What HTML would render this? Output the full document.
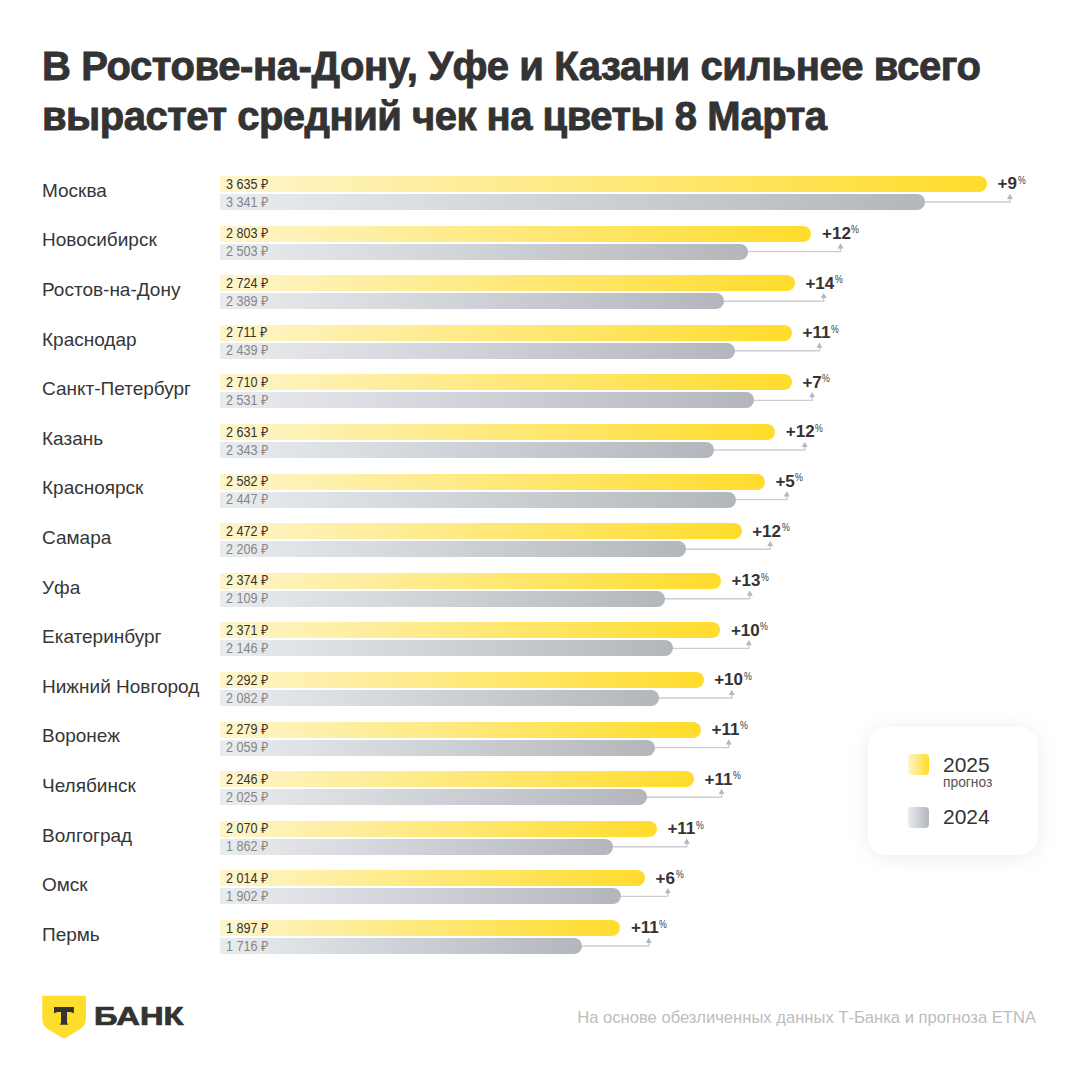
<!DOCTYPE html>
<html lang="ru"><head><meta charset="utf-8"><title>Средний чек на цветы 8 Марта</title>
<style>
*{margin:0;padding:0;box-sizing:border-box}
html,body{width:1080px;height:1080px;background:#fff;overflow:hidden}
body{position:relative;font-family:"Liberation Sans",sans-serif;color:#333}
.t{position:absolute;left:42px;font-weight:700;font-size:40px;white-space:nowrap;color:#333;line-height:1;-webkit-text-stroke:0.9px #333}
.c{position:absolute;left:42px;font-size:19px;white-space:nowrap;color:#363636;line-height:1}
.b{position:absolute;left:220px;height:16px;border-radius:0 8px 8px 0;z-index:2}
.y{background:linear-gradient(90deg,#fef5cc,#ffdc2b)}
.g{background:linear-gradient(90deg,#e9ecef,#b3b7bc)}
.v{position:absolute;left:5.9px;top:0.6px;font-size:14px;line-height:1;white-space:nowrap;transform:scaleX(0.9);transform-origin:0 0}
.y .v{color:#333}
.g .v{color:#858585}
.p{position:absolute;font-weight:700;font-size:17px;line-height:1;white-space:nowrap;color:#333;z-index:3}
.p sup{display:inline-block;position:relative;top:-0.5px;font-size:11px;font-weight:400;vertical-align:top;margin-left:0.6px;color:#3a3a3a;transform:scaleX(0.8);transform-origin:0 0}
svg.cn{position:absolute;left:0;top:0;z-index:1}
.leg{position:absolute;left:868px;top:727px;width:170px;height:128px;border-radius:18px;background:#fff;box-shadow:0 2px 22px rgba(0,0,0,0.08)}
.sq{position:absolute;width:21px;height:21px;border-radius:4px}
.lt{position:absolute;font-size:21px;line-height:1;color:#333;white-space:nowrap}
.ls{position:absolute;font-size:13.8px;line-height:1;color:#555;white-space:nowrap}
.foot{position:absolute;right:44px;top:1010px;font-size:16.6px;line-height:1;color:#bdbdbd;white-space:nowrap}
.bank{position:absolute;left:93.8px;top:1003.8px;font-weight:700;font-size:25px;line-height:1;color:#333;white-space:nowrap;transform:scaleX(1.31);transform-origin:0 0;-webkit-text-stroke:0.7px #333}
</style></head>
<body>
<div class="t" style="top:46.2px;letter-spacing:-0.4px">В Ростове-на-Дону, Уфе и Казани сильнее всего</div>
<div class="t" style="top:96.2px;letter-spacing:-0.5px">вырастет средний чек на цветы 8 Марта</div>
<div class="c" style="top:180.8px">Москва</div>
<div class="b y" style="top:176.0px;width:767.0px"><span class="v">3 635 ₽</span></div>
<div class="b g" style="top:194.0px;width:705.0px"><span class="v">3 341 ₽</span></div>
<div class="p" style="left:997.6px;top:175.3px">+9<sup>%</sup></div>
<div class="c" style="top:230.4px">Новосибирск</div>
<div class="b y" style="top:225.6px;width:591.4px"><span class="v">2 803 ₽</span></div>
<div class="b g" style="top:243.6px;width:528.1px"><span class="v">2 503 ₽</span></div>
<div class="p" style="left:822.0px;top:224.9px">+12<sup>%</sup></div>
<div class="c" style="top:280.0px">Ростов-на-Дону</div>
<div class="b y" style="top:275.2px;width:574.8px"><span class="v">2 724 ₽</span></div>
<div class="b g" style="top:293.2px;width:504.1px"><span class="v">2 389 ₽</span></div>
<div class="p" style="left:805.4px;top:274.5px">+14<sup>%</sup></div>
<div class="c" style="top:329.6px">Краснодар</div>
<div class="b y" style="top:324.8px;width:572.0px"><span class="v">2 711 ₽</span></div>
<div class="b g" style="top:342.8px;width:514.6px"><span class="v">2 439 ₽</span></div>
<div class="p" style="left:802.6px;top:324.1px">+11<sup>%</sup></div>
<div class="c" style="top:379.2px">Санкт-Петербург</div>
<div class="b y" style="top:374.4px;width:571.8px"><span class="v">2 710 ₽</span></div>
<div class="b g" style="top:392.4px;width:534.1px"><span class="v">2 531 ₽</span></div>
<div class="p" style="left:802.4px;top:373.7px">+7<sup>%</sup></div>
<div class="c" style="top:428.8px">Казань</div>
<div class="b y" style="top:424.0px;width:555.2px"><span class="v">2 631 ₽</span></div>
<div class="b g" style="top:442.0px;width:494.4px"><span class="v">2 343 ₽</span></div>
<div class="p" style="left:785.8px;top:423.3px">+12<sup>%</sup></div>
<div class="c" style="top:478.4px">Красноярск</div>
<div class="b y" style="top:473.6px;width:544.8px"><span class="v">2 582 ₽</span></div>
<div class="b g" style="top:491.6px;width:516.3px"><span class="v">2 447 ₽</span></div>
<div class="p" style="left:775.4px;top:472.9px">+5<sup>%</sup></div>
<div class="c" style="top:528.0px">Самара</div>
<div class="b y" style="top:523.2px;width:521.6px"><span class="v">2 472 ₽</span></div>
<div class="b g" style="top:541.2px;width:465.5px"><span class="v">2 206 ₽</span></div>
<div class="p" style="left:752.2px;top:522.5px">+12<sup>%</sup></div>
<div class="c" style="top:577.6px">Уфа</div>
<div class="b y" style="top:572.8px;width:500.9px"><span class="v">2 374 ₽</span></div>
<div class="b g" style="top:590.8px;width:445.0px"><span class="v">2 109 ₽</span></div>
<div class="p" style="left:731.5px;top:572.1px">+13<sup>%</sup></div>
<div class="c" style="top:627.2px">Екатеринбург</div>
<div class="b y" style="top:622.4px;width:500.3px"><span class="v">2 371 ₽</span></div>
<div class="b g" style="top:640.4px;width:452.8px"><span class="v">2 146 ₽</span></div>
<div class="p" style="left:730.9px;top:621.7px">+10<sup>%</sup></div>
<div class="c" style="top:676.8px">Нижний Новгород</div>
<div class="b y" style="top:672.0px;width:483.6px"><span class="v">2 292 ₽</span></div>
<div class="b g" style="top:690.0px;width:439.3px"><span class="v">2 082 ₽</span></div>
<div class="p" style="left:714.2px;top:671.3px">+10<sup>%</sup></div>
<div class="c" style="top:726.4px">Воронеж</div>
<div class="b y" style="top:721.6px;width:480.9px"><span class="v">2 279 ₽</span></div>
<div class="b g" style="top:739.6px;width:434.5px"><span class="v">2 059 ₽</span></div>
<div class="p" style="left:711.5px;top:720.9px">+11<sup>%</sup></div>
<div class="c" style="top:776.0px">Челябинск</div>
<div class="b y" style="top:771.2px;width:473.9px"><span class="v">2 246 ₽</span></div>
<div class="b g" style="top:789.2px;width:427.3px"><span class="v">2 025 ₽</span></div>
<div class="p" style="left:704.5px;top:770.5px">+11<sup>%</sup></div>
<div class="c" style="top:825.6px">Волгоград</div>
<div class="b y" style="top:820.8px;width:436.8px"><span class="v">2 070 ₽</span></div>
<div class="b g" style="top:838.8px;width:392.9px"><span class="v">1 862 ₽</span></div>
<div class="p" style="left:667.4px;top:820.1px">+11<sup>%</sup></div>
<div class="c" style="top:875.2px">Омск</div>
<div class="b y" style="top:870.4px;width:425.0px"><span class="v">2 014 ₽</span></div>
<div class="b g" style="top:888.4px;width:401.3px"><span class="v">1 902 ₽</span></div>
<div class="p" style="left:655.6px;top:869.7px">+6<sup>%</sup></div>
<div class="c" style="top:924.8px">Пермь</div>
<div class="b y" style="top:920.0px;width:400.3px"><span class="v">1 897 ₽</span></div>
<div class="b g" style="top:938.0px;width:362.1px"><span class="v">1 716 ₽</span></div>
<div class="p" style="left:630.9px;top:919.3px">+11<sup>%</sup></div>
<svg class="cn" width="1080" height="1080" viewBox="0 0 1080 1080"><path d="M919.0 202.0H1009.9V198.0" fill="none" stroke="#caced3" stroke-width="1.4"/><path d="M1009.9 193.7L1012.9 198.9H1006.9Z" fill="#b3b8be"/><path d="M742.1 251.6H840.5V247.6" fill="none" stroke="#caced3" stroke-width="1.4"/><path d="M840.5 243.3L843.5 248.5H837.5Z" fill="#b3b8be"/><path d="M718.1 301.2H823.7V297.2" fill="none" stroke="#caced3" stroke-width="1.4"/><path d="M823.7 292.9L826.7 298.1H820.7Z" fill="#b3b8be"/><path d="M728.6 350.8H819.5V346.8" fill="none" stroke="#caced3" stroke-width="1.4"/><path d="M819.5 342.5L822.5 347.7H816.5Z" fill="#b3b8be"/><path d="M748.1 400.4H812.1V396.4" fill="none" stroke="#caced3" stroke-width="1.4"/><path d="M812.1 392.1L815.1 397.3H809.1Z" fill="#b3b8be"/><path d="M708.4 450.0H804.7V446.0" fill="none" stroke="#caced3" stroke-width="1.4"/><path d="M804.7 441.7L807.7 446.9H801.7Z" fill="#b3b8be"/><path d="M730.3 499.6H786.8V495.6" fill="none" stroke="#caced3" stroke-width="1.4"/><path d="M786.8 491.3L789.8 496.5H783.8Z" fill="#b3b8be"/><path d="M679.5 549.2H770.2V545.2" fill="none" stroke="#caced3" stroke-width="1.4"/><path d="M770.2 540.9L773.2 546.1H767.2Z" fill="#b3b8be"/><path d="M659.0 598.8H749.8V594.8" fill="none" stroke="#caced3" stroke-width="1.4"/><path d="M749.8 590.5L752.8 595.7H746.8Z" fill="#b3b8be"/><path d="M666.8 648.4H748.9V644.4" fill="none" stroke="#caced3" stroke-width="1.4"/><path d="M748.9 640.1L751.9 645.3H745.9Z" fill="#b3b8be"/><path d="M653.3 698.0H731.7V694.0" fill="none" stroke="#caced3" stroke-width="1.4"/><path d="M731.7 689.7L734.7 694.9H728.7Z" fill="#b3b8be"/><path d="M648.5 747.6H728.8V743.6" fill="none" stroke="#caced3" stroke-width="1.4"/><path d="M728.8 739.3L731.8 744.5H725.8Z" fill="#b3b8be"/><path d="M641.3 797.2H721.6V793.2" fill="none" stroke="#caced3" stroke-width="1.4"/><path d="M721.6 788.9L724.6 794.1H718.6Z" fill="#b3b8be"/><path d="M606.9 846.8H686.8V842.8" fill="none" stroke="#caced3" stroke-width="1.4"/><path d="M686.8 838.5L689.8 843.7H683.8Z" fill="#b3b8be"/><path d="M615.3 896.4H667.8V892.4" fill="none" stroke="#caced3" stroke-width="1.4"/><path d="M667.8 888.1L670.8 893.3H664.8Z" fill="#b3b8be"/><path d="M576.1 946.0H648.8V942.0" fill="none" stroke="#caced3" stroke-width="1.4"/><path d="M648.8 937.7L651.8 942.9H645.8Z" fill="#b3b8be"/></svg>
<div class="leg"><div class="sq" style="left:40px;top:27px;background:linear-gradient(90deg,#fef5cc,#ffdc2b)"></div><div class="lt" style="left:75px;top:26.5px">2025</div><div class="ls" style="left:75px;top:48.9px">прогноз</div><div class="sq" style="left:40px;top:80px;background:linear-gradient(90deg,#e9ecef,#b3b7bc)"></div><div class="lt" style="left:75px;top:78.8px">2024</div></div>
<svg style="position:absolute;left:42px;top:995px" width="46" height="46" viewBox="0 0 46 46"><path d="M0.25 0.75H43.9V23C43.9 30 40.5 33 36 35.5L22 43.75L8 35.5C3.5 33 0.25 30 0.25 23Z" fill="#ffdd2d"/><path d="M12 12H31.9V18.5C30.5 17.3 28.5 17 26.5 17H25V27C25 28 25.6 29 26.3 29.75H17.7C18.4 29 19 28 19 27V17H17.5C15.5 17 13.5 17.3 12 18.5Z" fill="#333"/></svg>
<div class="bank">БАНК</div>
<div class="foot">На основе обезличенных данных Т-Банка и прогноза ETNA</div>
</body></html>
